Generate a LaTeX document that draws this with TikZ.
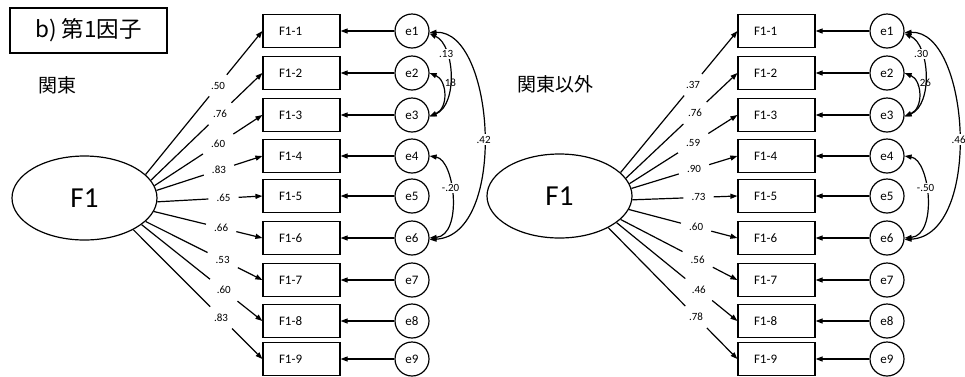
\documentclass[tikz,border=0pt]{standalone}
\usepackage{fontspec}
\setmainfont{Carlito}
\newfontfamily\jpfont{Noto Sans CJK JP}
\usetikzlibrary{arrows.meta,shapes.geometric}
\tikzset{
  x=1pt,y=-1pt,
  ln/.style={line width=1.2pt},
  arr/.style={ln,-{Triangle[length=7pt,width=5pt]}},
  dbl/.style={ln,{Triangle[length=7pt,width=5pt]}-{Triangle[length=7pt,width=5pt]}},
  obs/.style={draw,line width=1.2pt,rectangle,minimum width=77pt,minimum height=33pt,
    inner xsep=16pt,inner ysep=0pt,text width=45pt,align=left,font=\fontsize{13}{15}\selectfont},
  err/.style={draw,circle,line width=1.2pt,minimum size=34pt,inner sep=0pt,font=\fontsize{13}{15}\selectfont},
  lat/.style={draw,ellipse,line width=1.2pt,minimum width=145pt,minimum height=84pt,inner sep=0pt,
    font=\fontsize{29}{32}\selectfont},
  ld/.style={inner xsep=8pt,inner ysep=7pt,font=\fontsize{11}{12}\selectfont},
  cv/.style={fill=white,inner sep=1.5pt,font=\fontsize{11}{12}\selectfont},
  cvt/.style={inner sep=1pt,font=\fontsize{11}{12}\selectfont},
  jp/.style={font=\jpfont\fontsize{19}{21}\selectfont},
}
\begin{document}
\begin{tikzpicture}
\useasboundingbox (0,0) rectangle (965,376);
\node[draw,line width=1.1pt,minimum width=157pt,minimum height=45pt,inner sep=0pt,
  font=\jpfont\fontsize{22.5}{24}\selectfont] (title) at (88.5,30.5) {b) 第1因子};
\node[jp] (k1) at (57,85) {関東};
\node[jp] (k2) at (555,84) {関東以外};

% left panel
\begin{scope}[name prefix=L-]
\node[lat] (F) at (84.5,198) {F1};
\foreach \i/\y/\a/\p/\v in {1/31/21/.62/.50, 2/73/15/.62/.76, 3/115/10/.59/.60,
  4/156/6/.59/.83, 5/196/-3/.63/.65, 6/238/-11/.62/.66, 7/280/-21/.66/.53,
  8/321/-25/.68/.60, 9/359/-33/.68/.83}{
  \node[obs] (b\i) at (301.5,\y) {F1-\i};
  \node[err] (e\i) at (412,\y) {e\i};
  \draw[arr] (e\i) -- (b\i);
  \path (F.\a) -- (b\i.west) node[ld,pos=\p] (l\i) {\v};
  \draw[ln] (F.\a) -- (l\i);
  \draw[arr] (l\i) -- (b\i.west);
}
\draw[dbl] (e2.east) .. controls (447,80) and (449,108) .. (e3.-5);
\node[cvt] (c23) at (449,83) {.18};
\draw[dbl] (e1.-8) .. controls (455,45) and (458,105) .. (e3.-5) node[cv,pos=.3] (c13) {.13};
\draw[dbl] (e1.-5) .. controls (495,30) and (508,235) .. (e6.-5) node[cv,pos=.52] (c16) {.42};
\draw[dbl] (e4.east) .. controls (455,160) and (463,235) .. (e6.east) node[cv,pos=.42] (c46) {-.20};
\end{scope}

% right panel
\begin{scope}[xshift=475pt,name prefix=R-]
\node[lat] (F) at (84.5,196) {F1};
\foreach \i/\y/\a/\p/\v in {1/31/21/.62/.37, 2/73/15/.62/.76, 3/115/10/.59/.59,
  4/156/6/.59/.90, 5/196/-3/.63/.73, 6/238/-11/.62/.60, 7/280/-21/.66/.56,
  8/321/-25/.68/.46, 9/359/-33/.68/.78}{
  \node[obs] (b\i) at (301.5,\y) {F1-\i};
  \node[err] (e\i) at (412,\y) {e\i};
  \draw[arr] (e\i) -- (b\i);
  \path (F.\a) -- (b\i.west) node[ld,pos=\p] (l\i) {\v};
  \draw[ln] (F.\a) -- (l\i);
  \draw[arr] (l\i) -- (b\i.west);
}
\draw[dbl] (e2.east) .. controls (447,80) and (449,108) .. (e3.-5);
\node[cvt] (c23) at (449,83) {.26};
\draw[dbl] (e1.-8) .. controls (455,45) and (458,105) .. (e3.-5) node[cv,pos=.3] (c13) {.30};
\draw[dbl] (e1.-5) .. controls (495,30) and (508,235) .. (e6.-5) node[cv,pos=.52] (c16) {.46};
\draw[dbl] (e4.east) .. controls (455,160) and (463,235) .. (e6.east) node[cv,pos=.42] (c46) {-.50};
\end{scope}
\end{tikzpicture}
\end{document}
